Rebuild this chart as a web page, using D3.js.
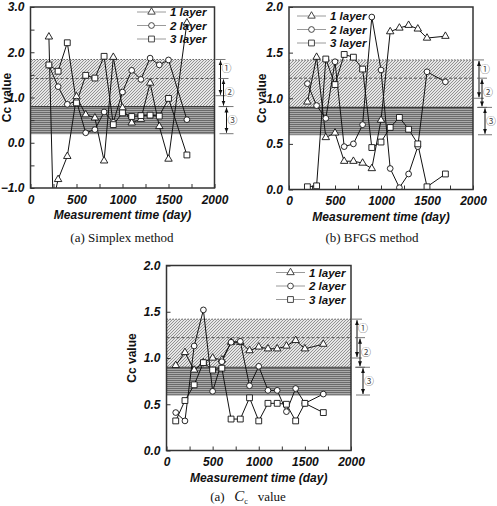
<!DOCTYPE html>
<html>
<head>
<meta charset="utf-8">
<script src="https://cdn.jsdelivr.net/npm/d3@7"></script>
<style>
  body { margin: 0; background: #fff; }
  svg { display: block; }
</style>
</head>
<body>
<svg id="chart" width="497" height="506"></svg>
<script>
// ---- data ----
const days = [200, 300, 400, 500, 600, 700, 800, 900, 1000, 1100, 1200, 1300, 1400, 1500, 1700];
const daysCc = [100, 200, 300, 400, 500, 600, 700, 800, 900, 1000, 1100, 1200, 1300, 1400, 1500, 1700];

// (a) Simplex method  (layer 1 has one point far below the axis, clipped)
const simplexDays1 = [200, 245, 300, 400, 500, 600, 700, 800, 900, 1000, 1100, 1200, 1300, 1400, 1500, 1700];
const simplex1 = [2.34, -1.3, -0.81, -0.30, 1.02, 0.62, 0.55, -0.40, 1.89, 0.77, 0.44, 0.52, 1.32, 0.36, -0.36, 2.65];
const simplex2 = [1.71, 1.24, 0.85, 0.92, 0.22, 0.29, 0.68, 0.45, 1.12, 1.60, 1.40, 1.87, 1.72, 1.83, 0.51];
const simplex3 = [1.72, 1.58, 2.21, 0.88, 1.49, 1.43, 1.91, 0.40, 0.66, 0.58, 0.60, 0.61, 0.59, 0.98, -0.27];

// (b) BFGS method
const bfgs1 = [0.96, 1.45, 0.57, 0.62, 0.31, 0.31, 0.29, 0.23, 0.76, 1.73, 1.77, 1.80, 1.76, 1.66, 1.68];
const bfgs2 = [1.16, 0.92, 0.78, 1.40, 0.47, 0.50, 0.71, 1.89, 1.31, 0.23, 0.02, 0.17, 0.47, 1.29, 1.18];
const bfgs3 = [0.03, 0.04, 1.43, 1.15, 1.48, 1.45, 1.32, 0.46, 0.52, 0.68, 0.79, 0.66, 0.50, 0.03, 0.17];

// (c) Cc value
const cc1 = [0.92, 1.06, 0.87, 0.95, 1.00, 0.98, 1.17, 1.17, 1.08, 1.12, 1.10, 1.10, 1.13, 1.19, 1.10, 1.15];
const cc2 = [0.41, 0.32, 1.13, 1.52, 0.64, 0.96, 1.17, 1.18, 0.70, 0.91, 0.65, 0.65, 0.42, 0.67, 0.51, 0.61];
const cc3 = [0.32, 0.54, 0.71, 0.95, 0.87, 0.89, 0.34, 0.34, 0.57, 0.32, 0.51, 0.51, 0.50, 0.32, 0.51, 0.41];

const layerNames = ['1 layer', '2 layer', '3 layer'];
const xTicks = [0, 500, 1000, 1500, 2000];
const yTicksA = [-1, 0, 1, 2, 3];
const yTicksBC = [0, 0.5, 1.0, 1.5, 2.0];

// band limits: top of hatch, dashed line, top of grey band, bottom of grey band
const bandsA = [1.84, 1.42, 0.80, 0.20];
const bandsBC = [1.42, 1.22, 0.90, 0.60];
// ranges marked by the arrows (1), (2), (3)
const rangesA = [[1.84, 1.04], [1.42, 0.80], [0.80, 0.20]];
const rangesBC = [[1.42, 1.00], [1.22, 0.90], [0.90, 0.60]];
const rangeLabels = ['\u2460', '\u2461', '\u2462'];

const font = "'Liberation Sans', Arial, sans-serif";
const serif = "'Liberation Serif', 'Times New Roman', serif";

const svg = d3.select('#chart');
const defs = svg.append('defs');

// hatch patterns
const diag = defs.append('pattern').attr('id', 'diag')
    .attr('patternUnits', 'userSpaceOnUse').attr('width', 3).attr('height', 3);
diag.append('rect').attr('width', 3).attr('height', 3).attr('fill', '#e6e6e6');
diag.append('path').attr('d', 'M-1,1 L1,-1 M0,3 L3,0 M2,4 L4,2')
    .attr('stroke', '#7c7c7c').attr('stroke-width', 0.8);

const horiz = defs.append('pattern').attr('id', 'horiz')
    .attr('patternUnits', 'userSpaceOnUse').attr('width', 4).attr('height', 2);
horiz.append('rect').attr('width', 4).attr('height', 2).attr('fill', '#aaaaaa');
horiz.append('rect').attr('width', 4).attr('height', 1).attr('fill', '#6a6a6a');

defs.append('marker').attr('id', 'arr')
    .attr('viewBox', '0 0 10 10').attr('refX', 10).attr('refY', 5)
    .attr('markerUnits', 'userSpaceOnUse')
    .attr('markerWidth', 5).attr('markerHeight', 5)
    .attr('orient', 'auto-start-reverse')
  .append('path').attr('d', 'M0,1 L10,5 L0,9 Z').attr('fill', '#111');

const symbols = [d3.symbolTriangle, d3.symbolCircle, d3.symbolSquare];
const symSizes = [24, 26, 34];

function drawPanel(p, idx) {
  const x = d3.scaleLinear().domain([0, 2000]).range([p.left, p.right]);
  const y = d3.scaleLinear().domain(p.yDomain).range([p.bottom, p.top]);
  const g = svg.append('g');

  defs.append('clipPath').attr('id', 'clip' + idx)
    .append('rect').attr('x', p.left).attr('y', p.top)
    .attr('width', p.right - p.left).attr('height', p.bottom - p.top);

  // bands
  const [b0, b1, b2, b3] = p.bands;
  g.append('rect').attr('x', p.left).attr('y', y(b0))
      .attr('width', p.right - p.left).attr('height', y(b2) - y(b0))
      .attr('fill', 'url(#diag)');
  g.append('rect').attr('x', p.left).attr('y', y(b2))
      .attr('width', p.right - p.left).attr('height', y(b3) - y(b2))
      .attr('fill', 'url(#horiz)');
  const bandLine = (v, color, dash, w) => g.append('line')
      .attr('x1', p.left).attr('x2', p.right).attr('y1', y(v)).attr('y2', y(v))
      .attr('stroke', color).attr('stroke-width', w).attr('stroke-dasharray', dash);
  bandLine(b0, '#666', '1.5,1.5', 1);
  bandLine(b1, '#555', '3,2', 1);
  bandLine(b2, '#3a3a3a', null, 1.2);
  bandLine(b3, '#888', null, 1);

  // axes
  const xAxis = d3.axisBottom(x).tickValues(d3.range(0, 2001, 250))
      .tickSizeInner(-4).tickSizeOuter(0).tickPadding(7)
      .tickFormat(d => xTicks.includes(d) ? d : '');
  const yAxis = d3.axisLeft(y).tickValues(p.yMinor)
      .tickSizeInner(-4).tickSizeOuter(0).tickPadding(6)
      .tickFormat(d => p.yTicks.includes(d) ? d3.format('.1f')(d) : '');

  [g.append('g').attr('transform', `translate(0,${p.bottom})`).call(xAxis),
   g.append('g').attr('transform', `translate(${p.left},0)`).call(yAxis)]
    .forEach(a => {
      a.select('.domain').remove();
      a.selectAll('line').attr('stroke', '#333');
      a.selectAll('text').attr('fill', '#111')
        .style('font', `italic bold 12px ${font}`);
    });

  // series
  const plot = g.append('g').attr('clip-path', `url(#clip${idx})`);
  p.series.forEach((s, k) => {
    const pts = s.values.map((v, i) => [s.days[i], v]);
    plot.append('path').datum(pts)
      .attr('fill', 'none').attr('stroke', '#111').attr('stroke-width', 1)
      .attr('d', d3.line().x(d => x(d[0])).y(d => y(d[1])));
  });
  p.series.forEach((s, k) => {
    const pts = s.values.map((v, i) => [s.days[i], v]);
    plot.selectAll(null).data(pts).enter().append('path')
      .attr('transform', d => `translate(${x(d[0])},${y(d[1])})`)
      .attr('d', d3.symbol(symbols[k], symSizes[k]))
      .attr('fill', '#fff').attr('stroke', '#111').attr('stroke-width', 0.9);
  });

  // frame
  g.append('rect').attr('x', p.left).attr('y', p.top)
    .attr('width', p.right - p.left).attr('height', p.bottom - p.top)
    .attr('fill', 'none').attr('stroke', '#333').attr('stroke-width', 1.5);

  // legend
  const leg = g.append('g').attr('transform', `translate(${p.legend[0]},${p.legend[1]})`);
  layerNames.forEach((name, k) => {
    const row = leg.append('g').attr('transform', `translate(0,${k * 13.5})`);
    row.append('line').attr('x1', 0).attr('x2', 29).attr('stroke', '#9a9a9a');
    row.append('path').attr('transform', 'translate(14.5,0)')
      .attr('d', d3.symbol(symbols[k], symSizes[k]))
      .attr('fill', '#fff').attr('stroke', '#333').attr('stroke-width', 0.9);
    row.append('text').attr('x', 33).attr('dy', '0.36em').text(name)
      .attr('fill', '#111').style('font', `italic bold 11.5px ${font}`);
  });

  // range arrows
  const offs = [6, 9, 12];
  p.ranges.forEach((r, k) => {
    const ax = p.right + offs[k];
    g.append('line').attr('x1', ax).attr('x2', ax)
      .attr('y1', y(r[0]) + 1).attr('y2', y(r[1]) - 1)
      .attr('stroke', '#111').attr('stroke-width', 1)
      .attr('marker-start', 'url(#arr)').attr('marker-end', 'url(#arr)');
    const half = k === 2 ? 7 : 5;
    [r[0], r[1]].forEach(v => g.append('line')
      .attr('x1', ax - half).attr('x2', ax + half)
      .attr('y1', y(v)).attr('y2', y(v))
      .attr('stroke', '#555').attr('stroke-width', 0.8));
    const mid = k === 0 ? (p.bands[0] + p.bands[1]) / 2
              : k === 1 ? (p.bands[1] + p.bands[2]) / 2
              : (p.bands[2] + p.bands[3]) / 2;
    g.append('text').attr('x', ax + 6).attr('y', y(mid)).attr('dy', '0.35em')
      .attr('text-anchor', 'middle').attr('fill', '#444')
      .style('font', "10px 'Noto Sans CJK JP', 'DejaVu Sans', sans-serif")
      .text(rangeLabels[k]);
  });

  // axis titles
  g.append('text')
    .attr('transform', `translate(${p.yTitleX},${(p.top + p.bottom) / 2}) rotate(-90)`)
    .attr('text-anchor', 'middle').attr('dy', '0.35em').attr('fill', '#111')
    .style('font', `bold 12px ${font}`).text('Cc value');
  g.append('text').attr('x', (p.left + p.right) / 2).attr('y', p.bottom + 31)
    .attr('text-anchor', 'middle').attr('fill', '#111')
    .style('font', `italic bold 12px ${font}`).text('Measurement time (day)');

  // caption
  const cap = g.append('text').attr('x', p.caption[0]).attr('y', p.caption[1])
    .attr('text-anchor', 'middle').attr('fill', '#111')
    .style('font', `13px ${serif}`);
  if (p.captionText) {
    cap.text(p.captionText);
  } else {
    cap.append('tspan').text('(a)\u00a0\u00a0\u00a0');
    cap.append('tspan').style('font-style', 'italic').style('font-size', '15px').text('C');
    cap.append('tspan').style('font-size', '8px').attr('dy', 3).text('c');
    cap.append('tspan').attr('dy', -3).text('\u00a0\u00a0\u00a0value');
  }
}

const panels = [
  {
    left: 30.5, right: 214.5, top: 7, bottom: 188,
    yDomain: [-1, 3], yTicks: yTicksA, yMinor: d3.range(-1, 3.01, 0.5),
    bands: bandsA, ranges: rangesA,
    legend: [137, 12], yTitleX: 6.5, caption: [122, 242],
    captionText: '(a) Simplex method',
    series: [
      { days: simplexDays1, values: simplex1 },
      { days: days, values: simplex2 },
      { days: days, values: simplex3 }
    ]
  },
  {
    left: 289, right: 473, top: 7, bottom: 189.5,
    yDomain: [0, 2], yTicks: yTicksBC, yMinor: yTicksBC,
    bands: bandsBC, ranges: rangesBC,
    legend: [297, 16], yTitleX: 261.5, caption: [372, 242],
    captionText: '(b) BFGS method',
    series: [
      { days: days, values: bfgs1 },
      { days: days, values: bfgs2 },
      { days: days, values: bfgs3 }
    ]
  },
  {
    left: 166.5, right: 351, top: 265.5, bottom: 450.5,
    yDomain: [0, 2], yTicks: yTicksBC, yMinor: yTicksBC,
    bands: bandsBC, ranges: rangesBC,
    legend: [276, 272.5], yTitleX: 132, caption: [248, 501],
    captionText: null,
    series: [
      { days: daysCc, values: cc1 },
      { days: daysCc, values: cc2 },
      { days: daysCc, values: cc3 }
    ]
  }
];

panels.forEach(drawPanel);
</script>
</body>
</html>
